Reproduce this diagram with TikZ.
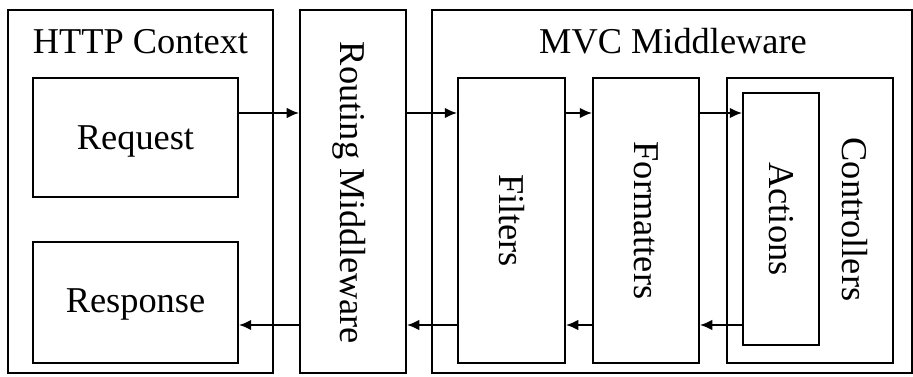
\documentclass[tikz,border=0pt]{standalone}
\usepackage{fontspec}
\setmainfont{Liberation Serif}
\usepackage{tikz}
\usetikzlibrary{arrows.meta}

\tikzset{
  box/.style={draw, line width=1.1pt, inner sep=0pt},
  lbl/.style={font=\fontsize{20.7}{24}\selectfont, inner sep=0pt},
  flow/.style={-{Latex[length=7pt,width=6pt]}, line width=1.1pt}
}

\begin{document}
\begin{tikzpicture}[x=0.02cm, y=-0.02cm]

    \useasboundingbox (0,0) rectangle (913,377);
    \clip (0,0) rectangle (913,377);

    % HTTP Context
    \node[box, minimum width=5.3cm, minimum height=7.26cm] (http) at (140.5,191.5) {};
    \node[lbl] (httplbl) at (140.5,42) {HTTP Context};
    \node[box, minimum width=4.1cm, minimum height=2.38cm] (request) at (135.5,137.5) {};
    \node[lbl, anchor=base] at (135.5,149.5) {Request};
    \node[box, minimum width=4.1cm, minimum height=2.42cm] (response) at (135.5,302.5) {};
    \node[lbl, anchor=base] at (135.5,313) {Response};

    % Routing
    \node[box, minimum width=2.12cm, minimum height=7.26cm] (routing) at (353,191.5) {};
    \node[lbl, rotate=-90] (routinglbl) at (349,193) {Routing Middleware};

    % MVC Middleware
    \node[box, minimum width=9.6cm, minimum height=7.26cm] (mvc) at (672,191.5) {};
    \node[lbl] (mvclbl) at (673,41) {MVC Middleware};
    \node[box, minimum width=2.14cm, minimum height=5.7cm] (filters) at (511.5,220.5) {};
    \node[lbl, rotate=-90] at (filters.center) {Filters};
    \node[box, minimum width=2.12cm, minimum height=5.7cm] (formatters) at (646,220.5) {};
    \node[lbl, rotate=-90] at (formatters.center) {Formatters};
    \node[box, minimum width=3.32cm, minimum height=5.7cm] (controllers) at (810,220.5) {};
    \node[lbl, rotate=-90] at (855,219.5) {Controllers};
    \node[box, minimum width=1.52cm, minimum height=5.04cm] (actions) at (781,219) {};
    \node[lbl, rotate=-90] at (actions.center) {Actions};

    % Pfeile
    \coordinate (upper) at (0,113);
    \coordinate (lower) at (0,325);
    \draw[flow] (request.east |- upper) -- (routing.west |- upper);
    \draw[flow] (routing.east |- upper) -- (filters.west |- upper);
    \draw[flow] (filters.east |- upper) -- (formatters.west |- upper);
    \draw[flow] (formatters.east |- upper) -- (actions.west |- upper);
    \draw[flow] (routing.west |- lower) -- (response.east |- lower);
    \draw[flow] (filters.west |- lower) -- (routing.east |- lower);
    \draw[flow] (formatters.west |- lower) -- (filters.east |- lower);
    \draw[flow] (actions.west |- lower) -- (formatters.east |- lower);

\end{tikzpicture}
\end{document}
